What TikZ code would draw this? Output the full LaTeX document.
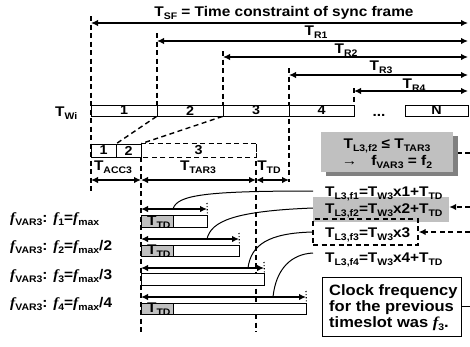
\documentclass[tikz,border=0pt]{standalone}
\usepackage{fontspec}
\setmainfont{Liberation Sans}[FakeStretch=1.1]
\newfontfamily\fitfont{Liberation Serif}[FakeStretch=1.1]
\usetikzlibrary{arrows.meta}
\definecolor{lgray}{RGB}{192,192,192}
\definecolor{dgray}{RGB}{128,128,128}
\newcommand{\dn}[1]{\raisebox{-3pt}{\fontsize{9.5}{10}\selectfont #1}}
\newcommand{\fv}{{\fitfont\bfseries\itshape f}}
\tikzset{
  txt/.style={font=\fontsize{14}{16}\selectfont\bfseries, inner sep=0pt},
  bigtxt/.style={font=\fontsize{15}{17}\selectfont\bfseries, inner sep=0pt},
  seg/.style={draw, line width=0.9pt, fill=white, minimum height=11pt, inner sep=0pt, font=\fontsize{13}{13}\selectfont\bfseries},
  dsh/.style={line width=1.4pt, dash pattern=on 5pt off 3.5pt},
  dbl/.style={line width=1.8pt, {Latex[length=7pt,width=6.5pt]}-{Latex[length=7pt,width=6.5pt]}},
  lft/.style={line width=1.4pt, dash pattern=on 5pt off 3.5pt, -{Latex[length=7pt,width=6.5pt]}},
  barbox/.style={draw, line width=0.9pt, fill=white, inner sep=0pt},
  grbox/.style={draw, line width=0.9pt, fill=lgray, inner sep=0pt, minimum width=32pt},
  tick/.style={dotted, line width=1.1pt},
  curve/.style={line width=1pt},
}
\begin{document}
\begin{tikzpicture}[x=1pt,y=-1pt]
\useasboundingbox[fill=white] (0,0) rectangle (470,346);

% ---------- coordinates ----------
\coordinate (v0t) at (91,16);   \coordinate (v0b) at (91,192);
\coordinate (v1t) at (157,33);
\coordinate (v2t) at (223,51);
\coordinate (v3t) at (289,68);  \coordinate (v3b) at (289,182);
\coordinate (v4t) at (354,88);
\coordinate (v5b) at (141,332);
\coordinate (v6b) at (256,332);
\coordinate (sfL) at (91,23);  \coordinate (sfR) at (468,23);
\coordinate (r1L) at (157,41); \coordinate (r1R) at (468,41);
\coordinate (r2L) at (223,57); \coordinate (r2R) at (468,57);
\coordinate (r3L) at (289,75); \coordinate (r3R) at (468,75);
\coordinate (r4L) at (354,91); \coordinate (r4R) at (468,91);
\coordinate (aA) at (91,180); \coordinate (aB) at (141,180);
\coordinate (aC) at (256,180); \coordinate (aD) at (289,180);
\coordinate (w1L) at (141,209); \coordinate (w1R) at (207,209); \coordinate (w1t) at (207,203);
\coordinate (w2L) at (141,239); \coordinate (w2R) at (239,239); \coordinate (w2t) at (239,233);
\coordinate (w3L) at (141,268); \coordinate (w3R) at (264,268); \coordinate (w3t) at (264,262);
\coordinate (w4L) at (141,297); \coordinate (w4R) at (306,297); \coordinate (w4t) at (306,291);
\coordinate (c1s) at (173,209); \coordinate (c1e) at (313,191);
\coordinate (c2s) at (207,239); \coordinate (c2e) at (313,208);
\coordinate (c3s) at (248,268); \coordinate (c3e) at (313,232);
\coordinate (c4s) at (273,297); \coordinate (c4e) at (313,253);
\coordinate (e1) at (470,153);
\coordinate (e2) at (470,207);
\coordinate (e3) at (470,232);
\coordinate (e4) at (470,306.5);

% ---------- vertical dashed guides ----------
\draw[dsh] (v0t) -- (v0b);
\draw[dsh] (v1t) -- (157,105);
\draw[dsh] (v2t) -- (223,105);
\draw[dsh] (v3t) -- (v3b);
\draw[dsh] (v4t) -- (354,105);
\draw[dsh] (141,157) -- (v5b);
\draw[dsh] (256,144) -- (v6b);

% ---------- top arrows ----------
\draw[dbl] (sfL) -- (sfR);
\draw[dbl] (r1L) -- (r1R);
\draw[dbl] (r2L) -- (r2R);
\draw[dbl] (r3L) -- (r3R);
\draw[dbl] (r4L) -- (r4R);
\node[txt, anchor=base] (tsf) at (284,16) {T\dn{SF} = Time constraint of sync frame};
\node[txt, anchor=base] (tr1) at (316,35) {T\dn{R1}};
\node[txt, anchor=base] (tr2) at (346,53) {T\dn{R2}};
\node[txt, anchor=base] (tr3) at (381,70) {T\dn{R3}};
\node[txt, anchor=base] (tr4) at (414,88) {T\dn{R4}};

% ---------- timeline ----------
\node[txt, anchor=base west] (twi) at (55,116) {T\dn{Wi}};
\node[seg, minimum width=66pt] (s1) at (124,110.5) {1};
\node[seg, minimum width=66pt] (s2) at (190,110.5) {2};
\node[seg, minimum width=66pt] (s3) at (256,110.5) {3};
\node[seg, minimum width=65pt] (s4) at (321.5,110.5) {4};
\node[txt, anchor=base] (dots) at (379,116) {...};
\node[seg, minimum width=63pt] (sN) at (436.5,110.5) {N};

% ---------- expanded slot ----------
\node[seg, minimum width=115pt, minimum height=13pt, draw=none] (b3) at (198.5,150.5) {3};
\draw[dsh] (b3.north west) -- (b3.north east) -- (b3.south east) -- (b3.south west);
\node[seg, minimum width=25pt, minimum height=13pt] (b1) at (103.5,150.5) {1};
\node[seg, minimum width=25pt, minimum height=13pt] (b2) at (128.5,150.5) {2};
\draw[dsh] (s2.south west) -- (b1.north east);
\draw[dsh] (s3.south west) -- (b2.north east);

\draw[dbl] (aA) -- (aB);
\draw[dbl] (aB) -- (aC);
\draw[dbl] (aC) -- (aD);
\node[txt, anchor=base] (tacc) at (113,170) {T\dn{ACC3}};
\node[txt, anchor=base] (ttar) at (198,170) {T\dn{TAR3}};
\node[txt, anchor=base] (ttd) at (269,170) {T\dn{TD}};

% ---------- rows ----------
\node[txt, anchor=base west] (l1) at (10,222) {\fv\dn{VAR3}: \fv\dn{1}=\fv\dn{max}};
\node[txt, anchor=base west] (l2) at (10,250) {\fv\dn{VAR3}: \fv\dn{2}=\fv\dn{max}/2};
\node[txt, anchor=base west] (l3) at (10,279) {\fv\dn{VAR3}: \fv\dn{3}=\fv\dn{max}/3};
\node[txt, anchor=base west] (l4) at (10,307) {\fv\dn{VAR3}: \fv\dn{4}=\fv\dn{max}/4};

\node[barbox, minimum width=66pt, minimum height=12pt] (bar1) at (174,221) {};
\node[grbox, minimum height=12pt] (g1) at (157,221) {};
\node[barbox, minimum width=98pt, minimum height=11pt] (bar2) at (190,250.5) {};
\node[grbox, minimum height=11pt] (g2) at (157,250.5) {};
\node[barbox, minimum width=123pt, minimum height=12pt] (bar3) at (202.5,279) {};
\node[barbox, minimum width=165pt, minimum height=11pt] (bar4) at (223.5,308.5) {};
\node[grbox, minimum height=11pt] (g4) at (157,308.5) {};
\node[txt, anchor=base west] (td1) at (147,225.5) {T\dn{TD}};
\node[txt, anchor=base west] (td2) at (147,254.5) {T\dn{TD}};
\node[txt, anchor=base west] (td4) at (147,312.5) {T\dn{TD}};

\draw[dbl] (w1L) -- (w1R);
\draw[dbl] (w2L) -- (w2R);
\draw[dbl] (w3L) -- (w3R);
\draw[dbl] (w4L) -- (w4R);
\draw[tick] (w1t) -- (bar1.north east);
\draw[tick] (w2t) -- (bar2.north east);
\draw[tick] (w3t) -- (bar3.north east);
\draw[tick] (w4t) -- (bar4.north east);

\draw[curve] (c1s) .. controls (177,195) and (205,191) .. (c1e);
\draw[curve] (c2s) .. controls (211,221) and (235,211) .. (c2e);
\draw[curve] (c3s) .. controls (251,245) and (268,233) .. (c3e);
\draw[curve] (c4s) .. controls (276,268) and (292,254) .. (c4e);

% ---------- right side ----------
\node[fill=dgray, minimum width=132pt, minimum height=40pt, inner sep=0pt] (gsh) at (392,156) {};
\node[fill=lgray, minimum width=132pt, minimum height=40pt, inner sep=0pt] (gx) at (387,152) {};
\node[txt, anchor=base] (gx1) at (387,148) {T\dn{L3,f2} ≤ T\dn{TAR3}};
\node[txt, anchor=base] (gx2) at (387,165) {→\quad f\dn{VAR3} = f\dn{2}};
\draw[dsh] (e1) -- (gsh.east |- e1);

\node[fill=lgray, minimum width=136pt, minimum height=25pt, inner sep=0pt] (gb) at (381,209.5) {};
\node[draw, dash pattern=on 5pt off 3.5pt, line width=1.4pt, minimum width=105pt, minimum height=26pt, inner sep=0pt] (db) at (365.5,232) {};
\node[txt, anchor=base west] (f1) at (325,196) {T\dn{L3,f1}=T\dn{W3}x1+T\dn{TD}};
\node[txt, anchor=base west] (f2) at (325,213) {T\dn{L3,f2}=T\dn{W3}x2+T\dn{TD}};
\node[txt, anchor=base west] (f3) at (325,237) {T\dn{L3,f3}=T\dn{W3}x3};
\node[txt, anchor=base west] (f4) at (325,262) {T\dn{L3,f4}=T\dn{W3}x4+T\dn{TD}};
\draw[lft] (e2) -- (gb.east |- e2);
\draw[lft] (e3) -- (db.east);

\node[draw, line width=0.9pt, minimum width=139pt, minimum height=59pt, inner sep=0pt] (ck) at (391.5,306.5) {};
\node[bigtxt, anchor=base west] (ck1) at (329,295) {Clock frequency};
\node[bigtxt, anchor=base west] (ck2) at (329,311) {for the previous};
\node[bigtxt, anchor=base west] (ck3) at (329,327) {timeslot was \fv\dn{3}.};
\draw[line width=0.9pt] (ck.east) -- (e4);
\end{tikzpicture}
\end{document}
